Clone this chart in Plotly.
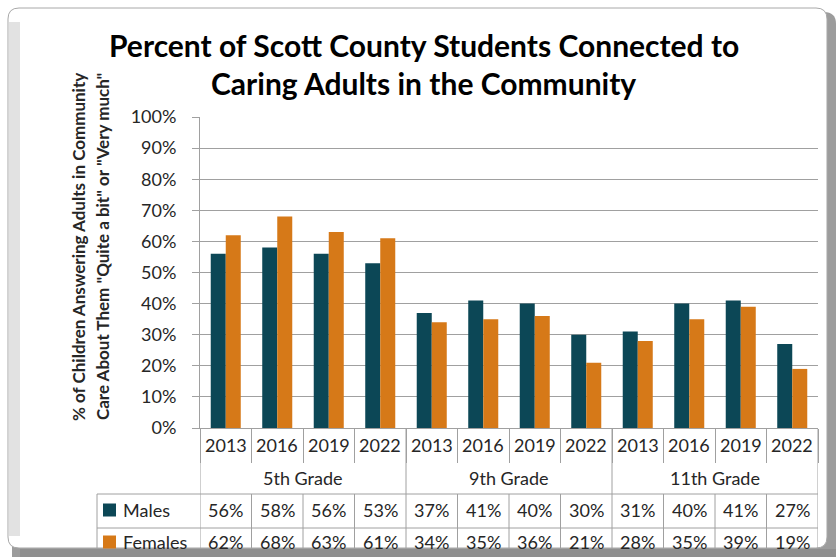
import plotly.graph_objects as go

# ---- data -------------------------------------------------------------
grades = ["5th Grade", "9th Grade", "11th Grade"]
years = ["2013", "2016", "2019", "2022"]
males = [56, 58, 56, 53, 37, 41, 40, 30, 31, 40, 41, 27]
females = [62, 68, 63, 61, 34, 35, 36, 21, 28, 35, 39, 19]
series_names = ["Males", "Females"]
y_ticks = [0, 10, 20, 30, 40, 50, 60, 70, 80, 90, 100]

# ---- style --------------------------------------------------------------
TEAL = "#0C4756"
ORANGE = "#D67918"
GRID = "#A0A0A0"
TEXT = "#262626"
FONT = "Lato"

FIG_W, FIG_H = 836, 557
L, R, T, B = 200, 818, 117, 428          # plot area in pixels
N = len(males)


def xp(px):
    return (px - L) / (R - L)


def yp(py):
    return (B - py) / (B - T)


def rrect(x0, y0, x1, y1, r):
    """rounded rectangle path (pixel corners) in paper coordinates"""
    pts = [
        ("M", [(x0 + r, y0)]),
        ("L", [(x1 - r, y0)]),
        ("Q", [(x1, y0), (x1, y0 + r)]),
        ("L", [(x1, y1 - r)]),
        ("Q", [(x1, y1), (x1 - r, y1)]),
        ("L", [(x0 + r, y1)]),
        ("Q", [(x0, y1), (x0, y1 - r)]),
        ("L", [(x0, y0 + r)]),
        ("Q", [(x0, y0), (x0 + r, y0)]),
    ]
    out = []
    for cmd, ps in pts:
        out.append(cmd + " " + " ".join(f"{xp(a):.5f},{yp(b):.5f}" for a, b in ps))
    return " ".join(out) + " Z"


def label(text, x, y, xref="x", size=18, **kw):
    return dict(text=text, x=x, y=y, xref=xref, yref="paper", showarrow=False,
                xanchor=kw.pop("xanchor", "center"), yanchor="middle",
                font=dict(family=FONT, size=size, color=kw.pop("color", TEXT)), **kw)


xs = list(range(N))
fig = go.Figure()
fig.add_trace(go.Bar(x=xs, y=[v / 100 for v in males], name=series_names[0],
                     marker=dict(color=TEAL, line=dict(width=0))))
fig.add_trace(go.Bar(x=xs, y=[v / 100 for v in females], name=series_names[1],
                     marker=dict(color=ORANGE, line=dict(width=0))))

shapes = []
# chart frame
shapes.append(dict(type="path", path=rrect(12, 12, 836, 575, 12), xref="paper", yref="paper",
                   fillcolor="#9C9C9C", line=dict(width=0), layer="below"))
shapes.append(dict(type="path", path=rrect(8, 8, 827, 548, 11), xref="paper", yref="paper",
                   fillcolor="white", line=dict(color="#A8A8A8", width=1), layer="below"))
shapes.append(dict(type="rect", xref="paper", yref="paper",
                   x0=xp(9), x1=xp(20), y0=yp(22), y1=yp(536),
                   fillcolor="#E2E2E2", line=dict(width=0), layer="below"))

n_per = len(years)
# group dividers below the axis
for g in range(len(grades) + 1):
    shapes.append(dict(type="line", xref="x", yref="paper",
                       x0=g * n_per - 0.5, x1=g * n_per - 0.5, y0=0, y1=yp(494),
                       line=dict(color=GRID, width=1)))
# table grid
for hy in [494, 528, 562]:
    shapes.append(dict(type="line", xref="paper", yref="paper",
                       x0=xp(97), x1=1, y0=yp(hy), y1=yp(hy),
                       line=dict(color=GRID, width=1)))
for i in range(N + 1):
    shapes.append(dict(type="line", xref="x", yref="paper",
                       x0=i - 0.5, x1=i - 0.5, y0=yp(494), y1=yp(565),
                       line=dict(color=GRID, width=1)))
shapes.append(dict(type="line", xref="paper", yref="paper",
                   x0=xp(97), x1=xp(97), y0=yp(494), y1=yp(565),
                   line=dict(color=GRID, width=1)))

row_y = [510, 542]
# legend keys in the table
for col, ry in zip([TEAL, ORANGE], row_y):
    shapes.append(dict(type="rect", xref="paper", yref="paper",
                       x0=xp(103), x1=xp(116), y0=yp(ry - 6.5), y1=yp(ry + 6.5),
                       fillcolor=col, line=dict(width=0)))

annotations = [
    dict(text="<b>Percent of Scott County Students Connected to</b>", x=xp(424), y=yp(45),
         xref="paper", yref="paper", showarrow=False, xanchor="center", yanchor="middle",
         font=dict(family=FONT, size=30, color="black")),
    dict(text="<b>Caring Adults in the Community</b>", x=xp(423), y=yp(83),
         xref="paper", yref="paper", showarrow=False, xanchor="center", yanchor="middle",
         font=dict(family=FONT, size=30, color="black")),
    dict(text="<b>% of Children Answering Adults in Community</b>", x=xp(78), y=yp(247),
         xref="paper", yref="paper", showarrow=False, textangle=-90,
         xanchor="center", yanchor="middle", font=dict(family=FONT, size=17, color=TEXT)),
    dict(text="<b>Care About Them \"Quite a bit\" or \"Very much\"</b>", x=xp(102), y=yp(247),
         xref="paper", yref="paper", showarrow=False, textangle=-90,
         xanchor="center", yanchor="middle", font=dict(family=FONT, size=17, color=TEXT)),
]

# year labels, grade labels
for i in xs:
    annotations.append(label(years[i % n_per], i, yp(445)))
for g, name in enumerate(grades):
    annotations.append(label(name, g * n_per + (n_per - 1) / 2, yp(478)))

# data table rows with series names
for name, vals, ry in zip(series_names, [males, females], row_y):
    annotations.append(label(name, xp(121), yp(ry), xref="paper", xanchor="left"))
    for i, v in zip(xs, vals):
        annotations.append(label(f"{v}%", i, yp(ry)))

# bottom shadow band of the frame, laid over the clipped table row
annotations.append(dict(text=" ", x=xp(20), y=yp(549), xref="paper", yref="paper",
                        showarrow=False, xanchor="left", yanchor="top",
                        width=816, height=12, bgcolor="#8F8F8F", borderpad=0,
                        borderwidth=0, font=dict(size=1)))

fig.update_layout(
    width=FIG_W, height=FIG_H,
    margin=dict(l=L, r=FIG_W - R, t=T, b=FIG_H - B, pad=0),
    paper_bgcolor="white", plot_bgcolor="rgba(0,0,0,0)",
    barmode="group", bargap=0.417, bargroupgap=0,
    showlegend=False,
    shapes=shapes, annotations=annotations,
    font=dict(family=FONT, color=TEXT),
)
fig.update_xaxes(range=[-0.5, N - 0.5], showgrid=False, zeroline=False,
                 showline=True, linecolor=GRID, linewidth=1,
                 tickmode="array", tickvals=[i - 0.5 for i in range(N + 1)],
                 ticks="outside", ticklen=34, tickcolor=GRID, tickwidth=1,
                 showticklabels=False, fixedrange=True)
fig.update_yaxes(range=[0, 1], tickmode="array", tickvals=[v / 100 for v in y_ticks],
                 ticktext=[f"{v}%" for v in y_ticks],
                 showgrid=True, gridcolor=GRID, gridwidth=1, zeroline=False,
                 showline=True, linecolor=GRID, linewidth=1,
                 ticks="outside", ticklen=7, tickcolor=GRID,
                 tickfont=dict(family=FONT, size=18, color=TEXT),
                 ticklabelstandoff=12, fixedrange=True)

fig.write_html("out.html")
